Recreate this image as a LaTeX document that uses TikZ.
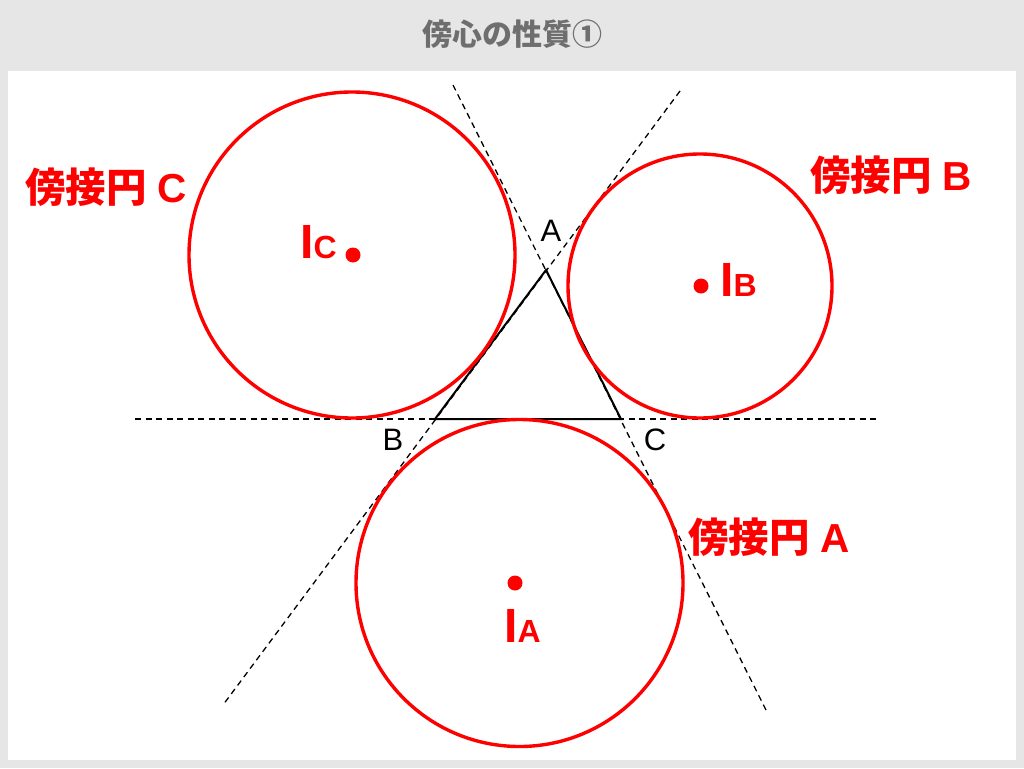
\documentclass[tikz,border=0pt]{standalone}
\usepackage{fontspec}
\setmainfont{Liberation Sans}
\newfontfamily\cjk{Noto Sans CJK JP}
\definecolor{bggray}{HTML}{E6E6E6}
\definecolor{titlegray}{HTML}{6E6E6E}
\definecolor{exred}{HTML}{FF0000}
\tikzset{
  excircle/.style={draw=exred, line width=3.4pt},
  tri/.style={draw=black, line width=2pt, line join=miter},
  ext/.style={draw=black, line width=1.3pt, dash pattern=on 6pt off 4.5pt},
  centerdot/.style={circle, fill=exred, inner sep=0pt, minimum size=15pt},
  vlabel/.style={font=\fontsize{31}{31}\selectfont, text=black, inner sep=0pt},
  exlabel/.style={font=\bfseries\fontsize{40.5}{40.5}\selectfont, text=exred, inner sep=0pt},
  ilabel/.style={font=\bfseries, text=exred, inner sep=0pt, anchor=base west},
  titlelabel/.style={font=\cjk\bfseries\fontsize{30}{30}\selectfont, text=titlegray, inner sep=0pt}
}
\begin{document}
\begin{tikzpicture}[x=1pt, y=-1pt]
\useasboundingbox (0,0) rectangle (1024,768);
\fill[bggray] (0,0) rectangle (1024,768);
\fill[white] (8,71) rectangle (1016,760);
\node[titlelabel] (title) at (512,34) {傍心の性質①};

% triangle vertices
\coordinate (A) at (546,270);
\coordinate (B) at (435,419);
\coordinate (C) at (621,419);
% free ends of the extended sides
\coordinate (BCl) at (135,419);
\coordinate (BCr) at (879,419);
\coordinate (ACt) at (453,85);
\coordinate (ACb) at (767,712);
\coordinate (ABt) at (680,91);
\coordinate (ABb) at (223,705);

\draw[ext] (BCl) -- (BCr);
\draw[ext] (ACt) -- (ACb);
\draw[ext] (ABt) -- (ABb);
\draw[tri] (A) -- (B) -- (C) -- cycle;

% excentres
\node[centerdot] (IA) at (515,583) {};
\node[centerdot] (IB) at (701,286) {};
\node[centerdot] (IC) at (353,255) {};

% circle centres
\coordinate (OA) at (519.5,583);
\coordinate (OB) at (700,286);
\coordinate (OC) at (352,255);

\draw[excircle] (OA) circle[radius=163.5];
\draw[excircle] (OB) circle[radius=132];
\draw[excircle] (OC) circle[radius=163];

% vertex labels
\node[vlabel] (lA) at (551,231) {A};
\node[vlabel] (lB) at (393,440) {B};
\node[vlabel] (lC) at (655,440) {C};

% excentre labels
\node[ilabel] (tIC) at (300,258) {\fontsize{48}{48}\selectfont I\fontsize{32}{32}\selectfont C};
\node[ilabel] (tIB) at (720,296) {\fontsize{48}{48}\selectfont I\fontsize{32}{32}\selectfont B};
\node[ilabel] (tIA) at (504,642) {\fontsize{48}{48}\selectfont I\fontsize{32}{32}\selectfont A};

% excircle labels
\node[exlabel] (eC) at (106,187) {{\cjk\bfseries 傍接円} C};
\node[exlabel] (eB) at (891,175) {{\cjk\bfseries 傍接円} B};
\node[exlabel] (eA) at (769,537) {{\cjk\bfseries 傍接円} A};
\end{tikzpicture}
\end{document}
